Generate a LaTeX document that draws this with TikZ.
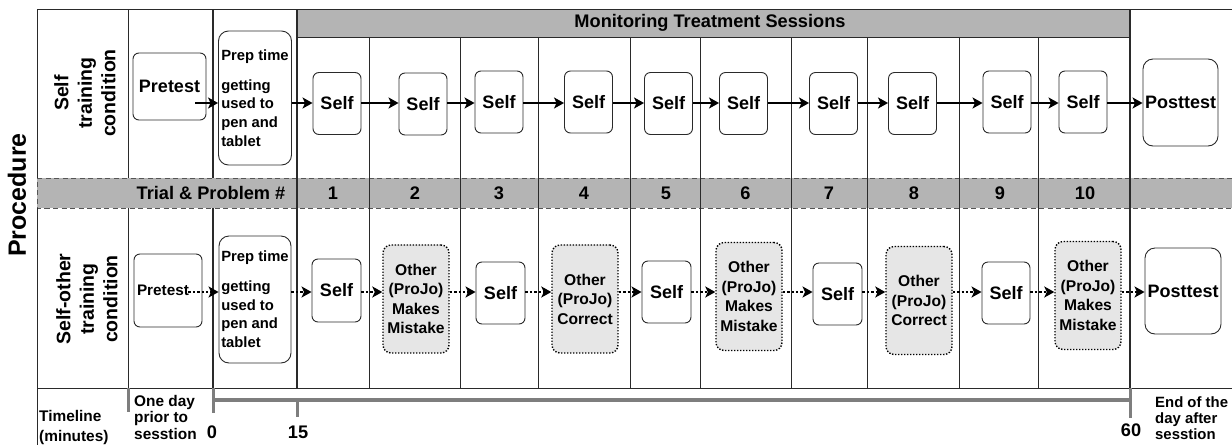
\documentclass[tikz,border=0pt]{standalone}
\usepackage{fontspec}
\setmainfont{Liberation Sans}
\usetikzlibrary{arrows.meta}
\newcommand\myfs[2]{\fontsize{#1}{#2}\selectfont}
\definecolor{gridc}{HTML}{2A2A2A}
\definecolor{hdrc}{HTML}{B4B4B4}
\definecolor{ofill}{HTML}{E6E6E6}
\definecolor{tlc}{HTML}{7E7E7E}
\definecolor{dashc}{HTML}{555555}
\begin{document}
\begin{tikzpicture}[x=1pt,y=-1pt,
  box/.style={draw=gridc, line width=0.9pt, rounded corners=6pt, inner sep=0pt, font=\bfseries\myfs{18}{21}},
  selfbox/.style={box, minimum width=48pt, minimum height=62pt},
  otherbox/.style={box, draw=black, fill=ofill, line width=1.4pt, dash pattern=on 1.4pt off 1.6pt, rounded corners=8pt, minimum width=66pt, minimum height=108pt, align=center, font=\bfseries\myfs{15.6}{19.5}},
  prepbox/.style={box, rounded corners=10pt, align=left, minimum width=73pt, font=\bfseries\myfs{14.8}{18.7}},
  arr/.style={line width=2.4pt, -{Stealth[length=10pt,width=11pt,inset=2.5pt]}},
  darr/.style={arr, dash pattern=on 2.4pt off 2pt},
  gline/.style={draw=gridc, line width=1pt},
  tick/.style={draw=tlc, line width=3pt},
  lbl/.style={font=\bfseries\myfs{18.2}{22}, inner sep=0pt},
  rowlbl/.style={font=\bfseries\myfs{19.5}{23.5}, inner sep=0pt, align=center, rotate=90},
  small/.style={font=\bfseries\myfs{15.4}{16.5}, inner sep=0pt, align=left}
]
\useasboundingbox (0,0) rectangle (1232,445);
% band and header
\fill[hdrc] (37,178) rectangle (1232,208);
\draw[dashc, line width=1pt, dash pattern=on 5pt off 3.5pt] (1232,178) -- (37,178) -- (37,208) -- (1232,208);
\draw[gridc, line width=1pt, fill=hdrc] (297,9) rectangle (1130,37);
% grid lines
\draw[gline] (37,9) -- (1232,9);
\draw[gline] (37,9) -- (37,178);
\draw[gline] (37,208) -- (37,445);
\draw[gline] (128,9) -- (128,178);
\draw[gline] (128,208) -- (128,388);
\draw[gridc, line width=1.8pt] (213,9) -- (213,178);
\draw[gridc, line width=1.8pt] (213,208) -- (213,388);
\draw[gridc, line width=1.5pt] (297,9) -- (297,388);
\foreach \xx in {369,460,538,630,700,791,867,959,1038}{
  \draw[gline] (\xx,37) -- (\xx,388);
}
\draw[gridc, line width=1.5pt] (1130,9) -- (1130,388);
\draw[gline] (37,388) -- (1232,388);
% timeline
\draw[tlc, line width=4.5pt] (213,400) -- (1130,400);
\draw[tick] (128,388) -- (128,412);
\draw[tick] (213,388) -- (213,413);
\draw[tick] (297,400) -- (297,417);
\draw[tick] (1130,388) -- (1130,418);
% header texts
\node[lbl] (hdr) at (710,23) {Monitoring Treatment Sessions};
\node[lbl] (trial) at (211,193) {Trial \& Problem \#};
\node[lbl] (n1) at (333,193) {1};
\node[lbl] (n2) at (415,193) {2};
\node[lbl] (n3) at (499,193) {3};
\node[lbl] (n4) at (584,193) {4};
\node[lbl] (n5) at (666,193) {5};
\node[lbl] (n6) at (745.5,193) {6};
\node[lbl] (n7) at (829,193) {7};
\node[lbl] (n8) at (914,193) {8};
\node[lbl] (n9) at (1000,193) {9};
\node[lbl] (n10) at (1085,193) {10};
% side labels
\node[font=\bfseries\myfs{25}{28}, rotate=90, inner sep=0pt] (proc) at (17,195) {Procedure};
\node[rowlbl] (rl1) at (85,93) {Self\\training\\condition};
\node[rowlbl] (rl2) at (87,299) {Self-other\\training\\condition};
% top row
\coordinate (r1) at (0,103);
\node[box, minimum width=73pt, minimum height=67pt] (pa) at (169.5,86.5) {Pretest};
\node[prepbox, minimum height=134pt] (qa) at (255,98) {Prep time\\[11pt]getting\\used to\\pen and\\tablet};
\node[selfbox] (a1) at (337,103.5) {Self};
\node[selfbox] (a2) at (423,104) {Self};
\node[selfbox] (a3) at (499,102) {Self};
\node[selfbox] (a4) at (588.5,102) {Self};
\node[selfbox] (a5) at (668.5,103.5) {Self};
\node[selfbox] (a6) at (743.5,103.5) {Self};
\node[selfbox] (a7) at (833.5,103.5) {Self};
\node[selfbox] (a8) at (912.5,103.5) {Self};
\node[selfbox] (a9) at (1007,102) {Self};
\node[selfbox] (a10) at (1083,102) {Self};
\node[box, rounded corners=10pt, minimum width=75pt, minimum height=87pt] (za) at (1180.5,102.5) {Posttest};
\draw[arr] ([xshift=-11pt]pa.east |- r1) -- (qa.west |- r1);
\draw[arr] (qa.east |- r1) -- (a1.west |- r1);
\foreach \i/\j in {a1/a2,a2/a3,a3/a4,a4/a5,a5/a6,a6/a7,a7/a8,a8/a9,a9/a10,a10/za}{
  \draw[arr] (\i.east |- r1) -- (\j.west |- r1);
}
% bottom row
\coordinate (r2) at (0,292);
\node[box, minimum width=68pt, minimum height=73pt, text width=62pt, align=left, font=\bfseries\myfs{15.3}{18}] (pb) at (168,290.5) {Pretest};
\node[prepbox, minimum width=72pt, minimum height=127pt] (qb) at (255,299.5) {Prep time\\[11pt]getting\\used to\\pen and\\tablet};
\node[selfbox, minimum width=49pt, minimum height=63pt] (b1) at (336.5,290.5) {Self};
\node[otherbox] (b2) at (416,299) {Other\\(ProJo)\\Makes\\Mistake};
\node[selfbox, minimum width=49pt] (b3) at (500.5,293) {Self};
\node[otherbox] (b4) at (585,299) {Other\\(ProJo)\\Correct};
\node[selfbox, minimum width=49pt] (b5) at (666.5,292) {Self};
\node[otherbox] (b6) at (749,296.5) {Other\\(ProJo)\\Makes\\Mistake};
\node[selfbox, minimum width=49pt] (b7) at (837.5,294) {Self};
\node[otherbox] (b8) at (919,300.5) {Other\\(ProJo)\\Correct};
\node[selfbox] (b9) at (1006,293) {Self};
\node[otherbox] (b10) at (1088,295.5) {Other\\(ProJo)\\Makes\\Mistake};
\node[box, rounded corners=10pt, minimum width=76pt, minimum height=86pt] (zb) at (1183,291) {Posttest};
\draw[darr] ([xshift=-14pt]pb.east |- r2) -- (qb.west |- r2);
\draw[darr] (qb.east |- r2) -- (b1.west |- r2);
\foreach \i/\j in {b1/b2,b2/b3,b3/b4,b4/b5,b5/b6,b6/b7,b7/b8,b8/b9,b9/b10,b10/zb}{
  \draw[darr] (\i.east |- r2) -- (\j.west |- r2);
}
% timeline labels
\node[small, anchor=west, font=\bfseries\myfs{15.4}{20}] (tline) at (39,428) {Timeline\\(minutes)};
\node[small, anchor=west] (oneday) at (134,417) {One day\\prior to\\sesstion};
\node[lbl] (t0) at (212,432) {0};
\node[lbl] (t15) at (298,432) {15};
\node[lbl] (t60) at (1131,430) {60};
\node[small, anchor=west, font=\bfseries\myfs{14.9}{16}] (endday) at (1155,418) {End of the\\day after\\sesstion};
\end{tikzpicture}
\end{document}
